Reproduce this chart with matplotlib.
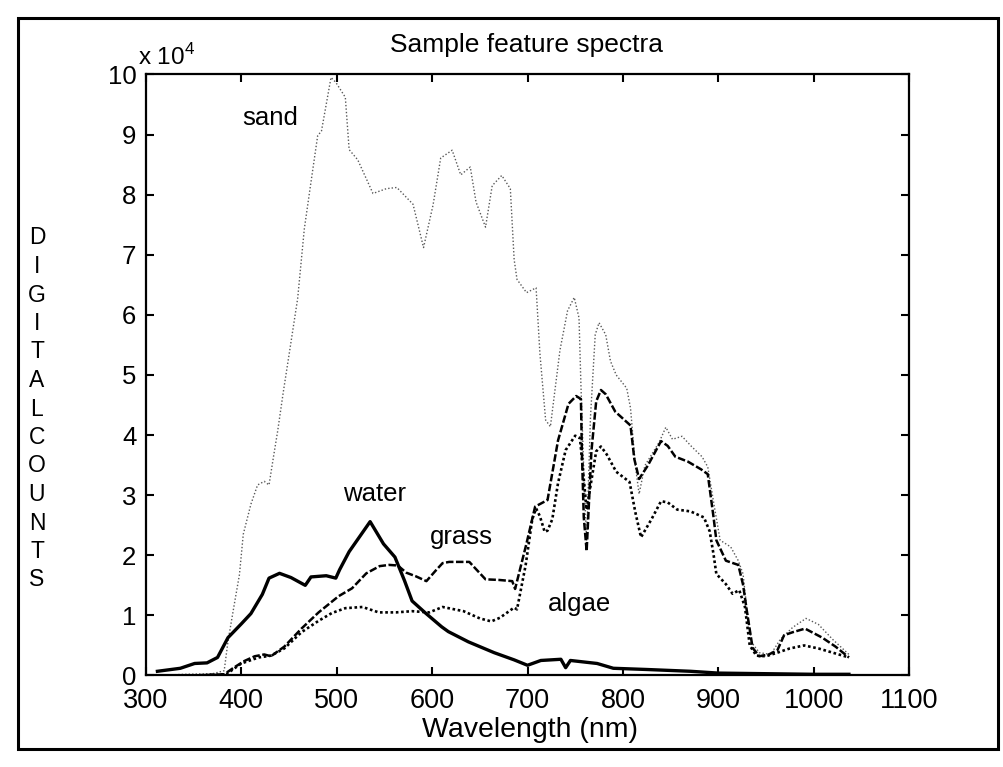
import matplotlib
matplotlib.use("Agg")
import matplotlib.pyplot as plt
from matplotlib.patches import Rectangle

plt.rcParams['font.family'] = ['Liberation Sans', 'DejaVu Sans']
plt.rcParams['mathtext.fontset'] = 'custom'
plt.rcParams['mathtext.rm'] = 'Liberation Sans'

# values, digital counts in units of 1e4
sand_nm = [312, 340, 370, 382, 386, 392, 398, 402, 410, 417, 424, 429, 434, 438, 444, 451,
           459, 466, 472, 480, 484, 494, 499, 509, 513, 522, 538, 552, 563, 580, 591, 601,
           609, 621, 630, 640, 646, 656, 663, 673, 682, 686, 689, 699, 709, 713, 719, 724,
           734, 742, 749, 754, 756, 759.5, 762, 766, 771, 775, 782, 787, 793, 804, 808, 813,
           817, 823, 838, 845, 852, 862, 872, 883, 889, 896, 902, 913, 921, 926, 930, 935,
           943, 955, 965, 978, 992, 1005, 1020, 1037]
sand = [0.0, 0.02, 0.03, 0.08, 0.57, 1.13, 1.68, 2.35, 2.85, 3.17, 3.23, 3.17, 3.67, 4.06, 4.72, 5.44,
        6.27, 7.43, 8.1, 8.98, 9.06, 9.95, 9.87, 9.62, 8.75, 8.58, 8.02, 8.1, 8.12, 7.84, 7.12, 7.83,
        8.61, 8.74, 8.33, 8.46, 7.88, 7.46, 8.15, 8.32, 8.1, 6.92, 6.59, 6.37, 6.45, 5.36, 4.25, 4.14,
        5.41, 6.07, 6.29, 5.95, 4.84, 3.18, 2.24, 4.29, 5.67, 5.87, 5.67, 5.23, 5.0, 4.78, 4.45, 3.5,
        3.02, 3.49, 3.88, 4.13, 3.93, 3.98, 3.81, 3.64, 3.47, 2.8, 2.25, 2.14, 1.91, 1.69, 1.1, 0.55,
        0.38, 0.35, 0.6, 0.8, 0.95, 0.85, 0.6, 0.35]

water_nm = [312, 336, 351, 364, 375, 386, 400, 410, 422, 429, 440, 452, 467, 473, 489, 499,
            503, 513, 524, 535, 549, 561, 571, 579, 593, 610, 617, 638, 665, 686, 700, 714,
            735, 740, 745, 773, 790, 825, 871, 900, 950, 1000, 1037]
water = [0.07, 0.12, 0.2, 0.21, 0.3, 0.63, 0.86, 1.03, 1.35, 1.62, 1.7, 1.63, 1.5, 1.64, 1.66, 1.62,
         1.76, 2.06, 2.31, 2.56, 2.19, 1.97, 1.58, 1.24, 1.04, 0.81, 0.73, 0.56, 0.38, 0.26, 0.17, 0.25,
         0.27, 0.13, 0.25, 0.2, 0.12, 0.1, 0.07, 0.04, 0.03, 0.02, 0.02]

grass_nm = [312, 350, 382, 392, 403, 414, 424, 431, 445, 463, 481, 502, 516, 531, 545, 555,
            564, 573, 583, 594, 604, 611, 618, 639, 646, 656, 670, 684, 687, 699, 708, 721,
            732, 743, 751, 756, 757, 759, 762, 767, 772, 777, 782, 792, 808, 812, 817, 826,
            840, 847, 855, 868, 882, 889, 895, 898, 908, 921, 926, 930, 936, 943, 953, 962,
            969, 978, 991, 1009, 1023, 1037]
grass = [0.0, 0.0, 0.02, 0.13, 0.24, 0.32, 0.35, 0.32, 0.48, 0.78, 1.05, 1.32, 1.45, 1.7, 1.82, 1.84,
         1.83, 1.71, 1.65, 1.57, 1.75, 1.87, 1.89, 1.89, 1.77, 1.6, 1.59, 1.57, 1.44, 2.2, 2.81, 2.92,
         3.91, 4.52, 4.65, 4.6, 3.74, 2.63, 2.07, 3.73, 4.56, 4.75, 4.68, 4.39, 4.16, 3.6, 3.27, 3.49,
         3.9, 3.82, 3.64, 3.56, 3.43, 3.35, 2.64, 2.25, 1.91, 1.84, 1.51, 1.07, 0.46, 0.32, 0.35, 0.42,
         0.67, 0.72, 0.78, 0.63, 0.48, 0.3]

algae_nm = [312, 350, 384, 400, 418, 431, 445, 463, 481, 495, 509, 527, 544, 562, 579, 597,
            611, 633, 650, 662, 671, 686, 689, 698, 705, 709, 713, 718, 721, 726, 732, 740,
            750, 755, 762, 772, 777, 783, 793, 807, 813, 819, 830, 840, 847, 857, 871, 885,
            891, 895, 898, 908, 915, 922, 928, 933, 940, 950, 962, 975, 990, 1005, 1020, 1037]
algae = [0.0, 0.0, 0.02, 0.2, 0.3, 0.33, 0.45, 0.72, 0.91, 1.04, 1.12, 1.14, 1.05, 1.05, 1.07, 1.05,
         1.14, 1.07, 0.95, 0.9, 0.96, 1.13, 1.1, 1.83, 2.6, 2.78, 2.65, 2.39, 2.41, 2.6, 3.2, 3.75,
         3.99, 3.95, 2.76, 3.73, 3.81, 3.68, 3.39, 3.22, 2.72, 2.3, 2.6, 2.9, 2.88, 2.76, 2.73, 2.63,
         2.4, 2.02, 1.69, 1.52, 1.36, 1.42, 1.14, 0.5, 0.33, 0.32, 0.38, 0.45, 0.5, 0.45, 0.38, 0.3]

labels = ['sand', 'water', 'grass', 'algae']
label_x = [430, 540, 631, 755]
label_y = [9.28, 3.02, 2.3, 1.19]

fig = plt.figure(figsize=(10.04, 7.67), dpi=100)
ax = fig.add_axes([0.1454, 0.1193, 0.76, 0.7836])

ax.plot(sand_nm, sand, color='0.35', lw=1.0, ls=(0, (1, 1.5)))
ax.plot(water_nm, water, color='k', lw=2.4, ls='-')
ax.plot(grass_nm, grass, color='k', lw=1.8, ls=(0, (3, 1)))
ax.plot(algae_nm, algae, color='k', lw=1.9, ls=(0, (1, 1)))

for name, x, y in zip(labels, label_x, label_y):
    ax.text(x, y, name, ha='center', va='center', fontsize=18.5)

ax.set_xlim(300, 1100)
ax.set_ylim(0, 10)
ax.set_xticks(range(300, 1101, 100))
ax.set_yticks(range(0, 11))
ax.tick_params(direction='in', length=6, width=1.5, top=True, right=True, labelsize=18.5)
ax.tick_params(axis='x', pad=9, labelsize=19.5)
ax.tick_params(axis='y', pad=7)
for s in ax.spines.values():
    s.set_linewidth(1.6)

ax.annotate('x 10$^{\\mathrm{4}}$', xy=(0, 1), xycoords='axes fraction', xytext=(-6, 7),
            textcoords='offset points', ha='left', va='baseline', fontsize=17.5)

fig.text(527 / 1004, 1 - 45 / 767, 'Sample feature spectra', ha='center', va='center', fontsize=19)
fig.text(530 / 1004, 1 - 730 / 767, 'Wavelength (nm)', ha='center', va='center', fontsize=20.5)

# stacked y label
for i, ch in enumerate('DIGITALCOUNTS'):
    fig.text(37 / 1004, 1 - (238 + 28.5 * i) / 767, ch, ha='center', va='center', fontsize=16.5)

# page frame from the scan
fig.patches.append(Rectangle((0.018, 0.0235), 0.976, 0.953, transform=fig.transFigure,
                             fill=False, lw=2.2, color='k'))

fig.savefig('out.png', dpi=100)
